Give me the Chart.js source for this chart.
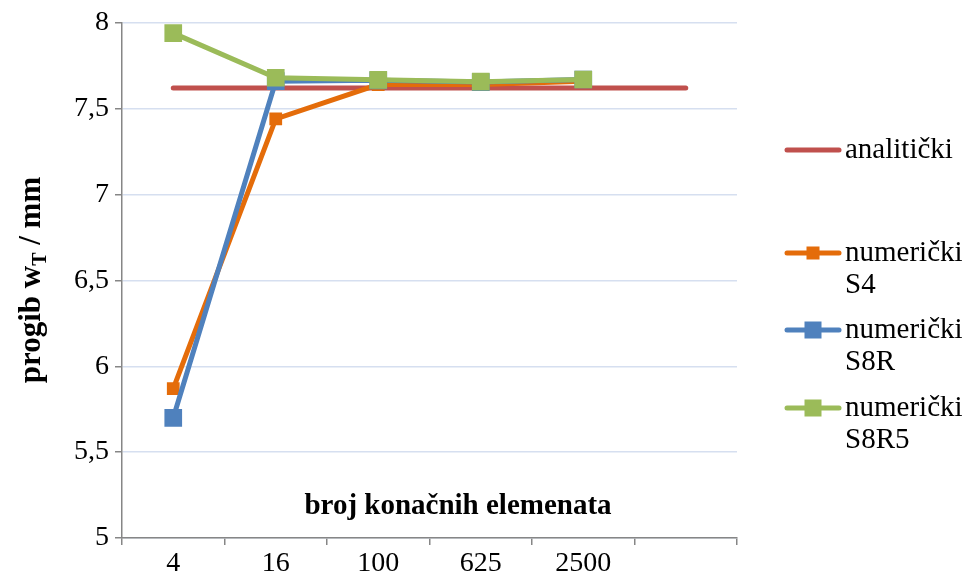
<!DOCTYPE html>
<html>
<head>
<meta charset="utf-8">
<script src="https://cdn.jsdelivr.net/npm/chart.js@4/dist/chart.umd.min.js"></script>
<style>
  html, body { margin: 0; padding: 0; background: #fff; }
  #wrap { width: 966px; height: 579px; position: relative; }
</style>
</head>
<body>
<div id="wrap"><canvas id="chart" width="966" height="579"></canvas></div>
<script>
// ── DATA ──
const categories = ['4', '16', '100', '625', '2500', ''];
const analitickiVals = [7.62, 7.62, 7.62, 7.62, 7.62, 7.62];
const s4Vals = [5.87, 7.44, 7.64, 7.64, 7.66, null];
const s8rVals = [5.70, 7.66, 7.665, 7.655, 7.67, null];
const s8r5Vals = [7.94, 7.68, 7.668, 7.657, 7.67, null];
const yTicks = [5, 5.5, 6, 6.5, 7, 7.5, 8];

const FONT = '"Liberation Serif", "Times New Roman", serif';

const legendItems = [
  { lines: ['analitički'], color: '#c0504d', marker: 0, y: 150 },
  { lines: ['numerički', 'S4'], color: '#e46c0a', marker: 13, y: 253 },
  { lines: ['numerički', 'S8R'], color: '#4f81bd', marker: 17, y: 330 },
  { lines: ['numerički', 'S8R5'], color: '#9bbb59', marker: 17, y: 408 },
];

// ── TITLES + LEGEND ──
const extrasPlugin = {
  id: 'extras',
  afterDraw(chart) {
    const ctx = chart.ctx;
    ctx.save();
    ctx.fillStyle = '#000';
    // x title sits inside plot area
    ctx.font = 'bold 29px ' + FONT;
    ctx.textAlign = 'center';
    ctx.textBaseline = 'middle';
    ctx.fillText('broj konačnih elemenata', 458, 507);

    // y title with subscript
    ctx.save();
    ctx.translate(30, 280);
    ctx.rotate(-Math.PI / 2);
    const p1 = 'progib w', sub = 'T', p2 = ' / mm';
    ctx.font = 'bold 31px ' + FONT;
    const w1 = ctx.measureText(p1).width, w3 = ctx.measureText(p2).width;
    ctx.font = 'bold 20px ' + FONT;
    const w2 = ctx.measureText(sub).width;
    let x = -(w1 + w2 + w3) / 2;
    ctx.textAlign = 'left';
    ctx.textBaseline = 'alphabetic';
    ctx.font = 'bold 31px ' + FONT;
    ctx.fillText(p1, x, 10);
    x += w1;
    ctx.font = 'bold 20px ' + FONT;
    ctx.fillText(sub, x, 16);
    x += w2;
    ctx.font = 'bold 31px ' + FONT;
    ctx.fillText(p2, x, 10);
    ctx.restore();

    // legend
    legendItems.forEach(it => {
      ctx.strokeStyle = it.color;
      ctx.lineWidth = 5;
      ctx.lineCap = 'round';
      ctx.beginPath();
      ctx.moveTo(787, it.y);
      ctx.lineTo(839, it.y);
      ctx.stroke();
      if (it.marker) {
        ctx.fillStyle = it.color;
        ctx.fillRect(813 - it.marker / 2, it.y - it.marker / 2, it.marker, it.marker);
      }
      ctx.fillStyle = '#000';
      ctx.font = '29px ' + FONT;
      ctx.textAlign = 'left';
      ctx.textBaseline = 'middle';
      it.lines.forEach((ln, i) => ctx.fillText(ln, 845, it.y + i * 32));
    });
    ctx.restore();
  }
};

const ctx = document.getElementById('chart');
new Chart(ctx, {
  type: 'line',
  data: {
    labels: categories,
    datasets: [
      { label: 'analitički', data: analitickiVals, borderColor: '#c0504d', borderWidth: 5,
        pointRadius: 0, order: 3, borderCapStyle: 'round' },
      { label: 'numerički S4', data: s4Vals, borderColor: '#e46c0a', backgroundColor: '#e46c0a',
        borderWidth: 5, pointStyle: 'rect', pointRadius: 9, pointBorderWidth: 0, order: 2 },
      { label: 'numerički S8R', data: s8rVals, borderColor: '#4f81bd', backgroundColor: '#4f81bd',
        borderWidth: 5, pointStyle: 'rect', pointRadius: 12.5, pointBorderWidth: 0, order: 1 },
      { label: 'numerički S8R5', data: s8r5Vals, borderColor: '#9bbb59', backgroundColor: '#9bbb59',
        borderWidth: 5, pointStyle: 'rect', pointRadius: 12.5, pointBorderWidth: 0, order: 0 },
    ],
  },
  options: {
    responsive: false,
    animation: false,
    layout: { padding: { top: 22, right: 229, left: 0, bottom: 0 } },
    plugins: { legend: { display: false }, tooltip: { enabled: false } },
    scales: {
      x: {
        offset: true,
        grid: { offset: true, drawOnChartArea: false, drawTicks: true, tickLength: 7, color: '#868686', lineWidth: 1.5 },
        border: { color: '#868686', width: 1.5 },
        ticks: { font: { family: FONT, size: 28 }, color: '#000', padding: 2, maxRotation: 0, autoSkip: false },
        afterFit: s => { s.height = 41; },
      },
      y: {
        min: 5, max: 8,
        afterBuildTicks: s => { s.ticks = yTicks.map(v => ({ value: v })); },
        grid: { color: '#d6dff0', lineWidth: 1.5, tickLength: 7, tickColor: '#868686' },
        border: { color: '#868686', width: 1.5 },
        ticks: { font: { family: FONT, size: 28 }, color: '#000', padding: 6,
          callback: v => String(v).replace('.', ',') },
        afterFit: s => { s.width = 122; },
      },
    },
  },
  plugins: [extrasPlugin],
});
</script>
</body>
</html>
